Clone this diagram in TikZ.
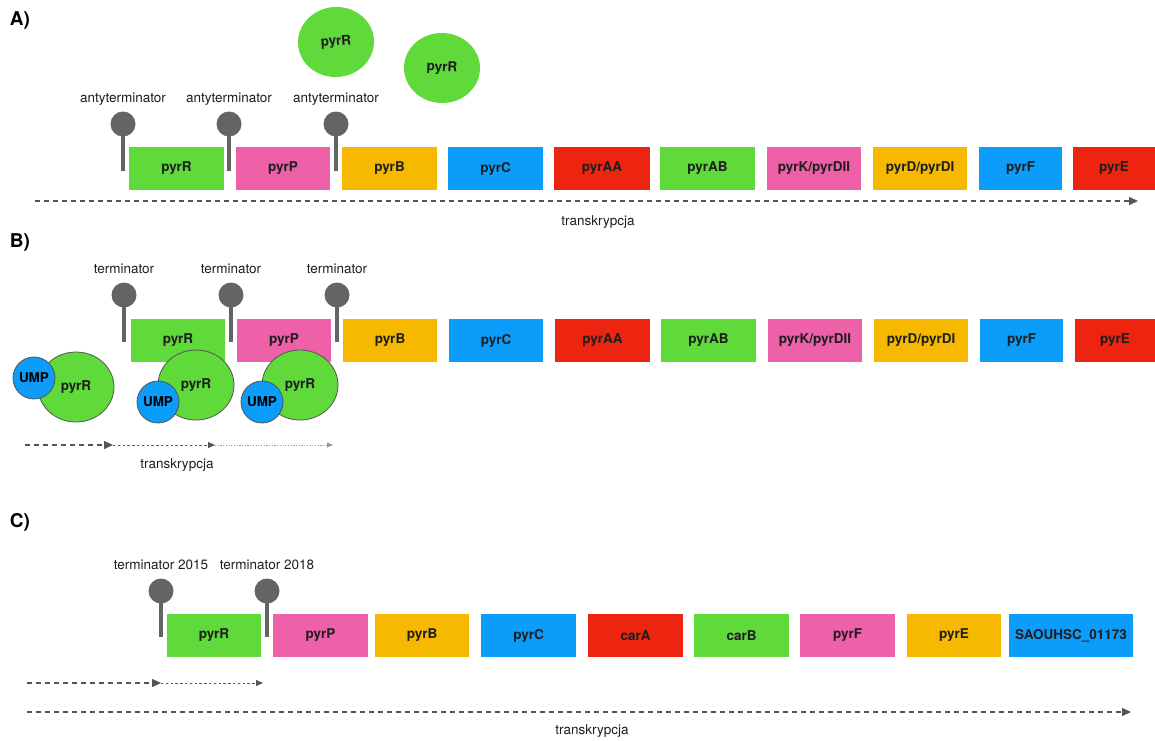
\documentclass[tikz,border=0pt]{standalone}
\usepackage{fontspec}
\setmainfont{TeX Gyre Heros}
\usetikzlibrary{shapes.geometric,arrows.meta}
\definecolor{cg}{RGB}{96,217,58}
\definecolor{cp}{RGB}{238,96,168}
\definecolor{co}{RGB}{247,185,0}
\definecolor{cb}{RGB}{12,156,250}
\definecolor{cr}{RGB}{236,36,16}
\definecolor{cgray}{RGB}{100,100,100}
\definecolor{ctxt}{RGB}{30,30,30}
\definecolor{carr}{RGB}{85,85,85}
\tikzset{
  gene/.style={minimum width=95pt, minimum height=43pt, inner sep=0pt, font=\bfseries\fontsize{13.5}{16}\selectfont, text=ctxt},
  ball/.style={circle, fill=cgray, minimum size=25pt, inner sep=0pt},
  stem/.style={draw=cgray, line width=4pt},
  lbl/.style={font=\fontsize{13.5}{16}\selectfont, text=ctxt, inner sep=0pt},
  sect/.style={font=\bfseries\fontsize{19}{22}\selectfont, text=black, inner sep=0pt},
  prot/.style={ellipse, fill=cg, minimum width=76pt, minimum height=70pt, inner sep=0pt, font=\bfseries\fontsize{13.5}{16}\selectfont, text=ctxt},
  protb/.style={prot, draw=carr, line width=0.8pt},
  ump/.style={circle, fill=cb, draw=carr, line width=0.8pt, minimum size=42pt, inner sep=0pt, font=\bfseries\fontsize{13.5}{16}\selectfont, text=black},
  tr1/.style={draw=carr, line width=1.4pt, dash pattern=on 5pt off 4pt, -{Triangle[length=9pt,width=8pt]}},
  tr2/.style={draw=carr, line width=1.0pt, dash pattern=on 2.4pt off 2.4pt, -{Triangle[length=7pt,width=6pt]}},
  tr3/.style={draw=carr!60, line width=0.8pt, dash pattern=on 1.2pt off 1.5pt, -{Triangle[length=6pt,width=5pt]}},
}
\begin{document}
\begin{tikzpicture}[x=1pt,y=-1pt]
\useasboundingbox (0,0) rectangle (1155,740);
% ===== A =====
\node[sect] (lA) at (20,20) {A)};
\node[prot, rotate=4] (pA1) at (336,42) {pyrR};
\node[prot, rotate=-2] (pA2) at (442,68) {pyrR};
\foreach \n/\x in {1/123,2/229,3/336}{
  \coordinate (aT\n) at (\x,124);
  \coordinate (aB\n) at (\x,171);
  \draw[stem] (aT\n) -- (aB\n);
  \node[ball] (aball\n) at (aT\n) {};
  \node[lbl] (alab\n) at (\x,99) {antyterminator};
}
\node[gene, fill=cg] (a1) at (176.5,168.5) {pyrR};
\node[gene, fill=cp, minimum width=94pt] (a2) at (283,168.5) {pyrP};
\node[gene, fill=co] (a3) at (389.5,168.5) {pyrB};
\node[gene, fill=cb] (a4) at (495.5,168.5) {pyrC};
\node[gene, fill=cr, minimum width=96pt] (a5) at (602,168.5) {pyrAA};
\node[gene, fill=cg] (a6) at (707.5,168.5) {pyrAB};
\node[gene, fill=cp, minimum width=94pt] (a7) at (814,168.5) {pyrK/pyrDII};
\node[gene, fill=co, minimum width=94pt] (a8) at (920,168.5) {pyrD/pyrDI};
\node[gene, fill=cb, minimum width=83pt] (a9) at (1020.5,168.5) {pyrF};
\node[gene, fill=cr, minimum width=82pt] (a10) at (1114,168.5) {pyrE};
\coordinate (aS) at (35,201);
\coordinate (aE) at (1138,201);
\draw[tr1] (aS) -- (aE);
\node[lbl] (atr) at (598,222) {transkrypcja};
% ===== B =====
\node[sect] (lB) at (20,242) {B)};
\foreach \n/\x in {1/124,2/231,3/337}{
  \coordinate (bT\n) at (\x,295);
  \coordinate (bB\n) at (\x,342);
  \draw[stem] (bT\n) -- (bB\n);
  \node[ball] (bball\n) at (bT\n) {};
  \node[lbl] (blab\n) at (\x,269) {terminator};
}
\node[gene, fill=cg, minimum width=94pt] (b1) at (178,340.5) {pyrR};
\node[gene, fill=cp, minimum width=94pt] (b2) at (284,340.5) {pyrP};
\node[gene, fill=co, minimum width=94pt] (b3) at (390,340.5) {pyrB};
\node[gene, fill=cb, minimum width=94pt] (b4) at (496,340.5) {pyrC};
\node[gene, fill=cr] (b5) at (602.5,340.5) {pyrAA};
\node[gene, fill=cg] (b6) at (708.5,340.5) {pyrAB};
\node[gene, fill=cp, minimum width=94pt] (b7) at (815,340.5) {pyrK/pyrDII};
\node[gene, fill=co, minimum width=94pt] (b8) at (921,340.5) {pyrD/pyrDI};
\node[gene, fill=cb, minimum width=83pt] (b9) at (1021.5,340.5) {pyrF};
\node[gene, fill=cr, minimum width=80pt] (b10) at (1115,340.5) {pyrE};
% UMP-pyrR complexes
\node[protb] (bp1) at (76,387) {pyrR};
\node[ump] (bu1) at (34,378) {UMP};
\node[protb] (bp2) at (196,385) {\raisebox{-2pt}{pyrR}};
\node[ump] (bu2) at (158,402) {UMP};
\node[protb] (bp3) at (300,385) {\raisebox{-2pt}{pyrR}};
\node[ump] (bu3) at (262,402) {UMP};
\coordinate (bA0) at (25,445);
\coordinate (bA1) at (113,445);
\coordinate (bA2) at (215,445);
\coordinate (bA3) at (333,445);
\draw[tr1] (bA0) -- (bA1);
\draw[tr2] (bA1) -- (bA2);
\draw[tr3] (bA2) -- (bA3);
\node[lbl] (btr) at (177,465) {transkrypcja};
% ===== C =====
\node[sect] (lC) at (20,522) {C)};
\foreach \n/\x/\t in {1/161/2015,2/267/2018}{
  \coordinate (cT\n) at (\x,591);
  \coordinate (cB\n) at (\x,637);
  \draw[stem] (cT\n) -- (cB\n);
  \node[ball] (cball\n) at (cT\n) {};
  \node[lbl] (clab\n) at (\x,565) {terminator \t};
}
\node[gene, fill=cg, minimum width=94pt] (c1) at (214,635.5) {pyrR};
\node[gene, fill=cp] (c2) at (320.5,635.5) {pyrP};
\node[gene, fill=co, minimum width=94pt] (c3) at (422,635.5) {pyrB};
\node[gene, fill=cb] (c4) at (528.5,635.5) {pyrC};
\node[gene, fill=cr] (c5) at (635.5,635.5) {carA};
\node[gene, fill=cg] (c6) at (741.5,635.5) {carB};
\node[gene, fill=cp] (c7) at (847.5,635.5) {pyrF};
\node[gene, fill=co, minimum width=94pt] (c8) at (954,635.5) {pyrE};
\node[gene, fill=cb, minimum width=124pt] (c9) at (1071,635.5) {SAOUHSC\_01173};
\coordinate (cA0) at (27,683);
\coordinate (cA1) at (161,683);
\coordinate (cA2) at (263,683);
\draw[tr1] (cA0) -- (cA1);
\draw[tr2] (cA1) -- (cA2);
\coordinate (cS) at (27,712);
\coordinate (cE) at (1131,712);
\draw[tr1] (cS) -- (cE);
\node[lbl] (ctr) at (592,731) {transkrypcja};
\end{tikzpicture}
\end{document}
